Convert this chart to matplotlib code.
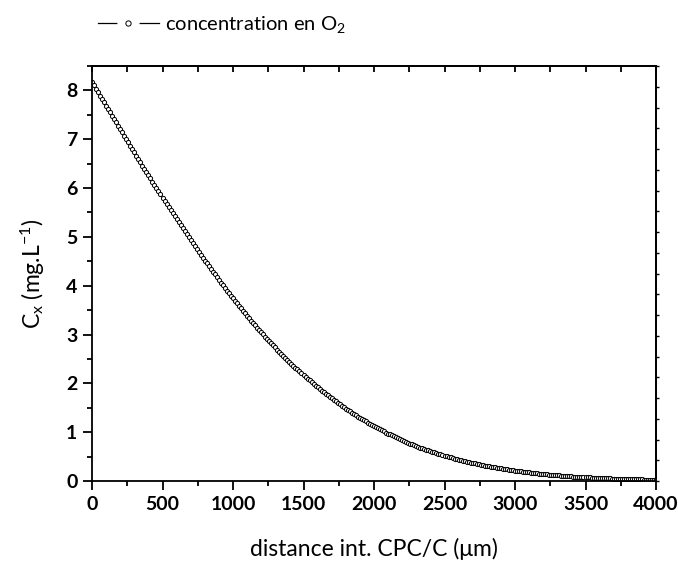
import numpy as np
import matplotlib
matplotlib.use("Agg")
import matplotlib.pyplot as plt
from matplotlib.lines import Line2D
from matplotlib.legend_handler import HandlerTuple
from matplotlib.ticker import MultipleLocator, FixedLocator

plt.rcParams['font.family'] = ['Lato', 'DejaVu Sans']
plt.rcParams['mathtext.fontset'] = 'custom'
plt.rcParams['mathtext.rm'] = 'Lato'
plt.rcParams['mathtext.it'] = 'Lato'
plt.rcParams['mathtext.bf'] = 'Lato:bold'

# distance grid (µm), 281 evenly spaced samples from 0 to 4000
distance = np.linspace(0, 4000, 281)

# O2 concentration (mg/L)
conc = [
    8.170, 8.101, 8.032, 7.963, 7.894, 7.825, 7.756,
    7.687, 7.618, 7.549, 7.480, 7.412, 7.343, 7.274,
    7.206, 7.138, 7.070, 7.002, 6.934, 6.865,
    6.797, 6.730, 6.663, 6.596, 6.529, 6.462, 6.395,
    6.329, 6.263, 6.197, 6.131, 6.066, 6.000, 5.934,
    5.870, 5.806, 5.741, 5.677, 5.613, 5.549,
    5.485, 5.423, 5.361, 5.299, 5.236, 5.174, 5.112,
    5.050, 4.990, 4.930, 4.870, 4.810, 4.750, 4.690,
    4.632, 4.574, 4.516, 4.458, 4.401, 4.343,
    4.285, 4.230, 4.175, 4.120, 4.065, 4.009, 3.954,
    3.900, 3.848, 3.795, 3.743, 3.690, 3.638, 3.585,
    3.535, 3.485, 3.435, 3.386, 3.336, 3.286,
    3.236, 3.190, 3.143, 3.096, 3.049, 3.003, 2.956,
    2.910, 2.866, 2.822, 2.778, 2.735, 2.691, 2.647,
    2.605, 2.564, 2.523, 2.482, 2.442, 2.401,
    2.360, 2.322, 2.284, 2.246, 2.208, 2.170, 2.132,
    2.095, 2.060, 2.025, 1.990, 1.955, 1.920, 1.885,
    1.852, 1.820, 1.788, 1.756, 1.724, 1.691,
    1.659, 1.630, 1.600, 1.571, 1.542, 1.512, 1.483,
    1.454, 1.428, 1.401, 1.374, 1.347, 1.321, 1.294,
    1.269, 1.245, 1.221, 1.196, 1.172, 1.148,
    1.124, 1.102, 1.080, 1.059, 1.037, 1.015, 0.993,
    0.972, 0.953, 0.933, 0.914, 0.894, 0.875, 0.855,
    0.837, 0.820, 0.802, 0.785, 0.768, 0.750,
    0.733, 0.717, 0.702, 0.686, 0.671, 0.656, 0.640,
    0.625, 0.612, 0.598, 0.585, 0.571, 0.557, 0.544,
    0.531, 0.519, 0.507, 0.495, 0.483, 0.471,
    0.459, 0.449, 0.439, 0.428, 0.418, 0.407, 0.397,
    0.387, 0.378, 0.369, 0.360, 0.350, 0.341, 0.332,
    0.324, 0.316, 0.308, 0.300, 0.293, 0.285,
    0.277, 0.270, 0.263, 0.257, 0.250, 0.243, 0.236,
    0.230, 0.224, 0.218, 0.213, 0.207, 0.201, 0.195,
    0.190, 0.185, 0.180, 0.175, 0.170, 0.165,
    0.160, 0.156, 0.152, 0.148, 0.144, 0.139, 0.135,
    0.131, 0.128, 0.124, 0.121, 0.117, 0.114, 0.110,
    0.107, 0.104, 0.101, 0.098, 0.095, 0.092,
    0.089, 0.087, 0.084, 0.082, 0.079, 0.077, 0.074,
    0.072, 0.070, 0.068, 0.066, 0.064, 0.062, 0.060,
    0.058, 0.056, 0.054, 0.053, 0.051, 0.049,
    0.048, 0.046, 0.045, 0.043, 0.042, 0.041, 0.039,
    0.038, 0.037, 0.036, 0.034, 0.033, 0.032, 0.031,
    0.030, 0.029, 0.028, 0.027, 0.026, 0.025,
    0.024,
]

series_label = "concentration en O$_2$"
xlabel = "distance int. CPC/C (\u03bcm)"
ylabel = "C$_x$ (mg.L$^{-1}$)"

fig = plt.figure(figsize=(6.78, 5.66), dpi=100)
ax = fig.add_axes([92 / 678, 1 - 481 / 566, (656 - 92) / 678, (481 - 66) / 566])

ax.plot(distance, conc, color='black', lw=0.7, marker='o', ms=3.0,
        mfc='white', mec='black', mew=0.7, label=series_label)

ax.set_xlim(0, 4000)
ax.set_ylim(0, 8.5)
ax.xaxis.set_major_locator(MultipleLocator(500))
ax.xaxis.set_minor_locator(MultipleLocator(250))
ax.yaxis.set_major_locator(MultipleLocator(1))
ax.yaxis.set_minor_locator(MultipleLocator(0.5))
ax.tick_params(which='major', direction='out', length=6.5, width=1.3,
               labelsize=14, pad=4)
ax.tick_params(which='minor', direction='out', length=3.5, width=1.3)
ax.tick_params(top=False, right=False)
for lab in ax.get_xticklabels() + ax.get_yticklabels():
    lab.set_fontweight('bold')
for sp in ax.spines.values():
    sp.set_linewidth(1.3)

# top axis: ticks every 250 pointing inward
top = ax.secondary_xaxis('top')
top.xaxis.set_major_locator(MultipleLocator(250))
top.tick_params(direction='in', length=4, width=1.3, labeltop=False)
top.spines['top'].set_linewidth(1.3)
# right axis: 20 equal divisions, small outward ticks
right = ax.secondary_yaxis('right')
right.yaxis.set_major_locator(FixedLocator(np.linspace(0, 8.5, 21)))
right.tick_params(direction='out', length=2, width=1.0, labelright=False)
right.spines['right'].set_linewidth(1.3)

ax.set_xlabel(xlabel, fontsize=16.5, labelpad=18)
ax.set_ylabel(ylabel, fontsize=16.5, labelpad=14)

h_line = Line2D([], [], color='black', lw=0.9)
h_gap = Line2D([], [], ls='none', marker='o', ms=15, mfc='white', mec='white')
h_mark = Line2D([], [], ls='none', marker='o', ms=3.8, mfc='white',
                mec='black', mew=0.7)
fig.legend([(h_line, h_gap, h_mark)], [series_label], loc='upper left',
           handler_map={tuple: HandlerTuple(ndivide=1)},
           bbox_to_anchor=(80 / 678, 1 + 4 / 566), frameon=False,
           fontsize=14.5, handlelength=3.0, handletextpad=0.3)

fig.savefig("out.png", dpi=100)
